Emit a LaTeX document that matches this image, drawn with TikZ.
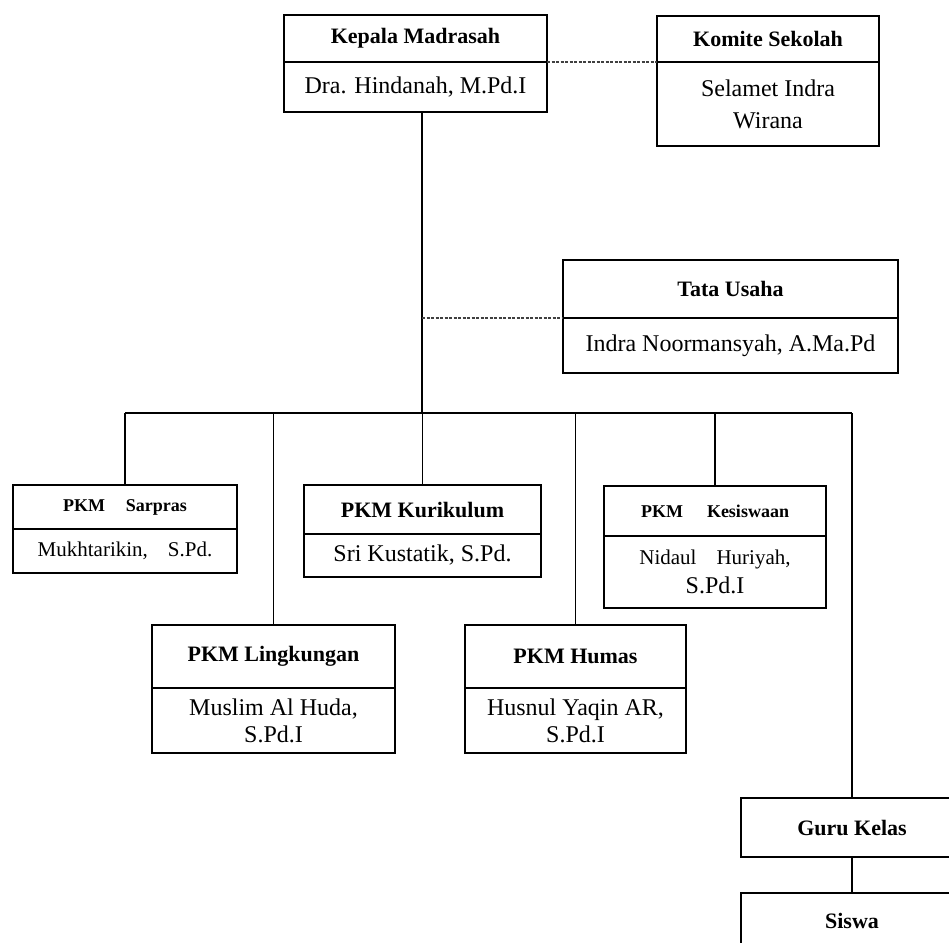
\documentclass[tikz,border=0pt]{standalone}
\usepackage{fontspec}
\setmainfont{Liberation Serif}
\usetikzlibrary{positioning}

\tikzset{
  boxline/.style={draw, line width=1.8pt, inner sep=0pt, outer sep=0pt},
  headbox/.style={boxline, font=\bfseries\fontsize{22}{26}\selectfont},
  namebox/.style={boxline, align=center, font=\fontsize{24}{28}\selectfont},
  smallhead/.style={boxline, font=\bfseries\fontsize{18}{22}\selectfont},
  smallname/.style={boxline, align=center, font=\fontsize{21}{29}\selectfont},
  link/.style={line width=1.8pt},
  dashlink/.style={line width=1.3pt, dash pattern=on 3pt off 1.5pt, black!75},
}

\begin{document}
\begin{tikzpicture}[x=1pt, y=-1pt]
    \clip (0,0) rectangle (949,942);
    \fill[white] (0,0) rectangle (949,942);

    % pimpinan
    \node[headbox, minimum width=263, minimum height=47, anchor=north west] (kepalaH) at (284,15) {Kepala Madrasah};
    \node[namebox, minimum width=263, minimum height=50, below=0pt of kepalaH] (kepala) {Dra. Hindanah, M.Pd.I};

    \node[headbox, minimum width=222, minimum height=46, anchor=north west] (komiteH) at (657,16) {Komite Sekolah};
    \node[namebox, minimum width=222, minimum height=84, below=0pt of komiteH, font=\fontsize{24}{32}\selectfont] (komite) {Selamet Indra\\Wirana};

    \node[headbox, minimum width=335, minimum height=58, anchor=north west] (tataH) at (563,260) {Tata Usaha};
    \node[namebox, minimum width=335, minimum height=55, below=0pt of tataH] (tata) {Indra Noormansyah, A.Ma.Pd};

    % baris PKM atas
    \node[smallhead, minimum width=224, minimum height=44, anchor=north west] (sarprasH) at (13,485) {PKM\hspace{21pt}Sarpras};
    \node[smallname, minimum width=224, minimum height=44, below=0pt of sarprasH] (sarpras) {Mukhtarikin,\hspace{20pt}S.Pd.};

    \node[headbox, minimum width=237, minimum height=49, anchor=north west] (kurikulumH) at (304,485) {PKM Kurikulum};
    \node[namebox, minimum width=237, minimum height=43, below=0pt of kurikulumH] (kurikulum) {Sri Kustatik, S.Pd.};

    \node[smallhead, minimum width=222, minimum height=50, anchor=north west] (kesiswaanH) at (604,486) {PKM\hspace{24pt}Kesiswaan};
    \node[smallname, minimum width=222, minimum height=72, below=0pt of kesiswaanH] (kesiswaan) {Nidaul\hspace{20pt}Huriyah,\\{\fontsize{24}{29}\selectfont S.Pd.I}};

    % baris PKM bawah
    \node[headbox, minimum width=243, minimum height=63, anchor=north west] (lingkunganH) at (152,625) {PKM Lingkungan};
    \node[namebox, minimum width=243, minimum height=65, below=0pt of lingkunganH, font=\fontsize{24}{27}\selectfont] (lingkungan) {Muslim Al Huda,\\S.Pd.I};

    \node[headbox, minimum width=221, minimum height=63, anchor=north west] (humasH) at (465,625) {PKM Humas};
    \node[namebox, minimum width=221, minimum height=65, below=0pt of humasH, font=\fontsize{24}{27}\selectfont] (humas) {Husnul Yaqin AR,\\S.Pd.I};

    \node[headbox, minimum width=222, minimum height=59, anchor=north west] (guru) at (741,798) {Guru Kelas};
    \node[headbox, minimum width=222, minimum height=56, anchor=north west] (siswa) at (741,893) {Siswa};

    % garis komando
    \coordinate (trunk) at (422,413);
    \coordinate (busL) at (125,413);
    \coordinate (busR) at (852,413);
    \draw[link] (kepala.south -| trunk) -- (trunk);
    \draw[link] (busL) -- (busR);
    \draw[link] (busL) -- (busL |- sarprasH.north);
    \draw[link] (lingkunganH.north |- busL) -- (lingkunganH.north);
    \draw[link] (kurikulumH.north |- busL) -- (kurikulumH.north);
    \draw[link] (humasH.north |- busL) -- (humasH.north);
    \draw[link] (kesiswaanH.north |- busL) -- (kesiswaanH.north);
    \draw[link] (busR) -- (guru.north);
    \draw[link] (guru.south) -- (siswa.north);

    % garis koordinasi
    \draw[dashlink] (kepalaH.south east) -- (komiteH.south west);
    \draw[dashlink] (trunk |- tataH.south west) -- (tataH.south west);
\end{tikzpicture}
\end{document}
